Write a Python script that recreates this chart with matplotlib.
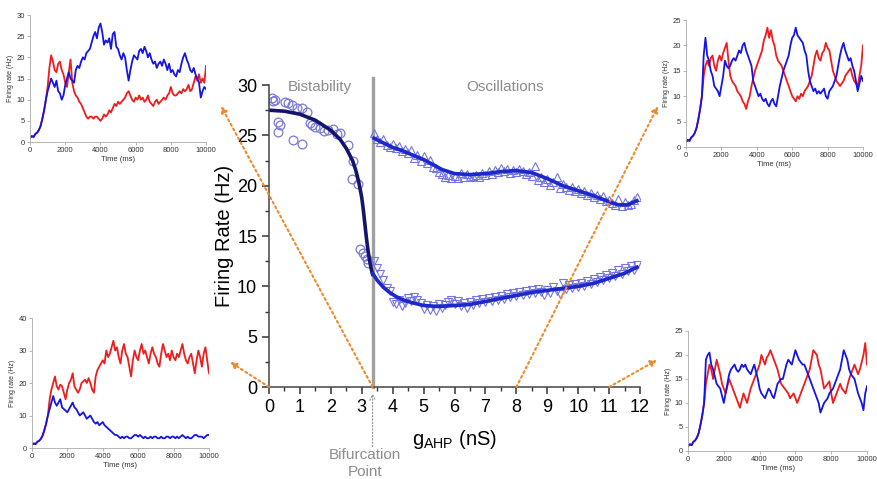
import matplotlib
matplotlib.use("Agg")
import matplotlib.pyplot as plt
import numpy as np
from matplotlib.patches import ConnectionPatch

plt.rcParams['font.family'] = ['Liberation Sans', 'DejaVu Sans']
plt.rcParams['mathtext.fontset'] = 'custom'
plt.rcParams['mathtext.rm'] = 'Liberation Sans'
plt.rcParams['mathtext.it'] = 'Liberation Sans:italic'

# ---- main panel data ----
bif_x = 3.35

circ_x = [0.09, 0.19, 0.52, 0.63, 0.73, 0.89, 1.06, 1.22, 0.30, 0.36, 0.30, 0.79, 1.06,
          1.33, 1.49, 1.65, 1.92, 2.08, 2.30, 2.57, 2.73, 2.67, 2.89, 2.94, 3.05, 3.11,
          3.16, 3.21, 0.14, 1.40, 1.78, 2.20]
circ_y = [28.7, 28.5, 28.3, 28.2, 28.0, 27.7, 27.7, 27.3, 26.3, 26.0, 25.3, 24.5, 24.1,
          26.2, 25.8, 25.7, 25.5, 25.6, 25.2, 24.0, 22.5, 20.7, 20.2, 13.7, 13.3, 13.0,
          12.7, 12.3, 28.4, 26.0, 25.4, 25.1]

left_fit_x = [0.0, 0.5, 1.0, 1.5, 2.0, 2.3, 2.5, 2.7, 2.8, 2.9, 3.0, 3.05, 3.1, 3.15, 3.2, 3.25, 3.3, 3.35]
left_fit_y = [27.5, 27.4, 27.1, 26.5, 25.5, 24.6, 23.7, 22.5, 21.6, 20.4, 18.8, 17.6, 16.2, 14.8, 13.6, 12.6, 11.8, 11.2]

tri_x = [3.4, 3.5, 3.6, 3.7, 3.8, 3.9, 4.0, 4.1, 4.2, 4.3, 4.4, 4.5, 4.6, 4.7, 4.8, 4.9,
         5.0, 5.1, 5.2, 5.3, 5.4, 5.5, 5.6, 5.7, 5.8, 5.9, 6.0, 6.1, 6.2, 6.3, 6.4, 6.5,
         6.6, 6.7, 6.8, 6.9, 7.0, 7.1, 7.2, 7.3, 7.4, 7.5, 7.6, 7.7, 7.8, 7.9, 8.0, 8.1,
         8.2, 8.3, 8.4, 8.5, 8.6, 8.7, 8.8, 8.9, 9.0, 9.1, 9.2, 9.3, 9.4, 9.5, 9.6, 9.7,
         9.8, 9.9, 10.0, 10.1, 10.2, 10.3, 10.4, 10.5, 10.6, 10.7, 10.8, 10.9, 11.0, 11.1,
         11.2, 11.3, 11.4, 11.5, 11.6, 11.7, 11.8, 11.9]
upper_y = [25.2, 24.6, 24.3, 24.6, 24.0, 23.8, 24.1, 23.7, 23.9, 23.4, 23.6, 23.2, 23.5, 22.8,
           23.0, 22.5, 22.9, 22.3, 22.6, 21.9, 21.8, 21.4, 21.2, 20.9, 21.1, 20.8, 21.0, 20.8,
           21.3, 20.9, 21.2, 20.9, 21.0, 21.1, 20.9, 21.3, 21.1, 21.5, 21.2, 21.6, 21.4, 21.8,
           21.5, 21.7, 21.3, 21.6, 21.4, 21.7, 21.5, 21.2, 21.4, 21.0, 22.0, 20.6, 20.9, 20.4,
           20.7, 20.1, 20.4, 20.9, 19.8, 20.2, 19.9, 19.6, 19.9, 19.5, 19.7, 19.3, 19.5, 19.1,
           19.3, 18.9, 19.1, 18.7, 19.0, 18.5, 18.6, 18.3, 18.1, 18.7, 18.0, 18.4, 18.1, 18.2,
           18.6, 18.9]
lower_y = [12.5, 11.8, 11.2, 10.6, 9.8, 9.5, 8.4, 8.2, 8.6, 8.0, 8.3, 8.8, 8.5, 8.9, 8.6, 8.3,
           7.8, 8.1, 7.7, 8.0, 7.6, 8.2, 7.9, 8.1, 8.4, 8.6, 8.2, 8.5, 8.0, 8.3, 7.9, 8.4,
           8.1, 8.6, 8.3, 8.7, 8.4, 8.8, 8.5, 8.9, 8.6, 9.0, 8.7, 9.2, 8.9, 9.3, 9.0, 9.4,
           9.1, 9.5, 9.2, 9.6, 9.3, 9.7, 9.4, 9.1, 9.6, 9.3, 9.9, 9.5, 9.2, 10.3, 9.7, 10.1,
           9.8, 10.2, 9.9, 10.3, 10.0, 10.5, 10.2, 10.7, 10.4, 10.9, 10.6, 11.1, 10.8, 11.3,
           11.0, 11.6, 11.2, 11.8, 11.5, 12.0, 11.6, 12.1]

upper_fit_x = [3.4, 3.6, 3.8, 4.0, 4.3, 4.6, 5.0, 5.3, 5.6, 6.0, 6.5, 7.0, 7.5, 8.0, 8.5,
               9.0, 9.5, 10.0, 10.5, 11.0, 11.3, 11.6, 11.9]
upper_fit_y = [24.7, 24.4, 24.1, 23.8, 23.5, 23.1, 22.6, 22.1, 21.6, 21.2, 21.1, 21.2, 21.4,
               21.5, 21.3, 20.7, 20.0, 19.5, 19.0, 18.4, 18.1, 18.1, 18.5]
lower_fit_x = [3.35, 3.5, 3.7, 3.9, 4.1, 4.3, 4.6, 5.0, 5.5, 6.0, 6.5, 7.0, 7.5, 8.0, 8.5,
               9.0, 9.5, 10.0, 10.5, 11.0, 11.5, 11.9]
lower_fit_y = [11.3, 10.6, 9.9, 9.4, 9.0, 8.7, 8.4, 8.1, 8.0, 8.1, 8.2, 8.5, 8.8, 9.1, 9.4,
               9.6, 9.8, 10.0, 10.3, 10.8, 11.3, 11.9]

# ---- inset traces (firing rate every 100 ms) ----
t_ms = list(range(0, 10001, 100))
rise = [1.0, 1.4, 1.2, 1.9, 2.2, 2.8, 3.8, 5.5, 7.5, 10.0]

tl_red = rise + [13.0, 17.5, 20.5, 19.0, 17.0, 16.5, 18.5, 19.0, 17.0, 16.0,
                 14.0, 13.0, 16.5, 19.5, 14.0, 12.0, 11.0, 10.5, 9.5, 9.0,
                 8.0, 7.0, 6.0, 5.5, 6.0, 6.0, 5.5, 6.0, 6.0, 5.5,
                 5.0, 5.5, 6.5, 6.0, 6.5, 7.5, 7.0, 8.0, 9.0, 8.5,
                 9.5, 9.0, 9.5, 10.0, 10.5, 11.5, 12.0, 11.0, 10.0, 9.5,
                 10.5, 10.0, 11.0, 10.0, 10.5, 9.5, 10.0, 11.0, 9.5, 9.0,
                 8.5, 9.5, 10.0, 9.0, 9.5, 10.0, 10.5, 10.0, 11.0, 11.5,
                 13.0, 11.5, 11.0, 11.0, 11.5, 12.0, 11.5, 12.5, 12.0, 12.5,
                 13.5, 12.0, 12.5, 14.0, 15.5, 14.5, 16.0, 14.0, 15.0, 14.0, 18.0]
tl_blue = rise + [12.0, 13.5, 15.0, 14.0, 13.0, 14.5, 12.0, 11.5, 10.0, 11.0,
                  13.5, 15.0, 16.5, 15.0, 14.5, 14.0, 17.0, 18.0, 17.5, 19.0,
                  20.0, 19.5, 21.0, 21.5, 22.0, 23.5, 25.0, 26.0, 24.5, 27.0,
                  28.0, 26.0, 23.0, 24.0, 23.5, 24.5, 22.0, 25.5, 26.0, 22.5,
                  22.0, 20.5, 19.5, 21.0, 20.0, 17.0, 14.5, 17.0, 19.0, 20.5,
                  20.0, 19.5, 21.5, 22.0, 21.0, 22.5, 21.5, 20.0, 21.0, 19.5,
                  18.5, 19.0, 17.5, 18.5, 19.0, 18.0, 19.5, 18.5, 17.0, 18.5,
                  16.5, 17.0, 16.0, 15.5, 17.0, 16.5, 18.5, 20.0, 21.0, 19.5,
                  18.5, 17.0, 16.5, 17.5, 16.0, 15.0, 14.0, 10.5, 12.0, 13.0, 12.5]
tr_red = rise + [14, 16, 17, 16, 17.5, 18, 16, 15, 17, 18,
                 17, 18.5, 19.5, 20.5, 17, 14, 13, 12.5, 12, 11,
                 10.5, 10, 9, 8.5, 7.5, 9, 10, 12, 13.5, 15,
                 16, 17, 18, 19, 21, 22, 23.5, 21.5, 23, 21,
                 20, 18, 17, 16.5, 16, 15, 14, 13, 12, 11,
                 10, 9.5, 9, 10, 9.5, 10.5, 10, 11, 11.5, 12,
                 13, 14, 16, 18, 19, 17.5, 17, 18.5, 19, 20.5,
                 19.5, 19, 17, 15, 14, 13, 12.5, 12, 12.5, 13,
                 14, 14.5, 15, 15.5, 14, 13, 12.5, 12, 14, 16, 20]
tr_blue = rise + [18, 21.5, 18, 17, 15, 14, 12, 11.5, 11, 10,
                  12, 14, 17, 16, 15.5, 16, 17, 17.5, 17, 18,
                  19, 18.5, 20, 20.5, 19, 18, 17, 16, 13, 12,
                  11, 10, 10.5, 9.5, 9, 9.5, 8.5, 8, 9, 9.5,
                  8.5, 8, 10, 12, 13.5, 15, 16, 17, 18, 20,
                  21.5, 22, 23.5, 22, 21.5, 21, 20.5, 19, 18, 15,
                  13, 12, 11, 11.5, 10.5, 11, 10.5, 11, 11.5, 10,
                  9.5, 11, 11.5, 12, 13, 14, 16, 18, 19.5, 20.5,
                  19, 18, 17, 17.5, 16, 15, 13, 11, 12.5, 14, 13]
bl_red = rise + [15, 18, 20, 22, 19, 18, 19.5, 19, 17, 15,
                 18, 20, 21, 23, 19, 18, 17, 18, 20, 20.5,
                 21, 20, 21.5, 20, 18, 17, 22, 24, 25, 26,
                 27, 26, 30, 28, 29, 31, 33, 30, 31, 28,
                 26, 30, 32, 29, 28, 25, 22, 27, 30, 28,
                 27, 30, 32, 29, 30, 28, 26, 29, 31, 29,
                 28, 26, 25, 29, 32, 30, 28, 29, 27, 30,
                 28, 27, 29, 28, 30, 32, 29, 27, 26, 28,
                 29, 26, 23, 27, 30, 28, 25, 29, 31, 27, 23]
bl_blue = rise + [12, 14, 16, 14, 13, 14, 15, 12.5, 12, 11.5,
                  11, 12, 13, 14, 12.5, 12, 11, 10, 10.5, 11,
                  10, 9, 9.5, 10, 9, 8, 7.5, 8, 7, 7.5,
                  8, 7, 6.5, 6, 5.5, 5, 4.5, 4, 4, 3.5,
                  3, 3.5, 3, 3.5, 3.5, 3, 3, 3.5, 4, 4,
                  3.5, 4, 3.5, 3, 3.5, 3, 3, 3.5, 3, 3.5,
                  3.5, 3, 3, 3.5, 3, 3, 3.5, 3.5, 3, 3.5,
                  3.5, 3, 3.5, 3, 3.5, 4, 3.5, 3, 3.5, 3,
                  3, 3.5, 4, 4, 3.5, 3.5, 3.5, 3, 3.5, 4, 4]
br_red = rise + [14, 16, 18, 17, 15, 17, 19, 17.5, 16, 14,
                 13, 12, 13.5, 15, 14, 13, 12, 11, 10, 9,
                 10.5, 12, 11, 10, 11.5, 13, 14, 15, 16, 17,
                 18, 20, 19, 18, 19.5, 20, 21, 20, 19, 18,
                 17, 15.5, 14, 13.5, 13, 12.5, 12, 11, 11.5, 12,
                 11, 10, 11, 12, 13, 14, 15, 16, 17, 19,
                 21, 20.5, 20, 18, 17, 15, 13, 13.5, 14, 14.5,
                 12, 10, 11, 12, 13, 14, 13, 12.5, 12, 13.5,
                 15, 16, 17, 18, 17, 16, 17, 18.5, 20, 22.5, 18]
br_blue = rise + [19, 20, 20.5, 18, 17, 15.5, 14, 13.5, 13, 11.5,
                  10, 12, 14, 16, 17, 17.5, 18, 17, 16.5, 17,
                  18, 17.5, 18, 17, 16.5, 16, 17, 18, 16.5, 15,
                  13, 12, 11.5, 11, 12, 13, 12.5, 11.5, 11, 12.5,
                  14, 14.5, 15, 15, 16.5, 18, 19, 18.5, 18, 19.5,
                  21, 20, 19, 18.5, 18, 18, 17, 16, 15, 14,
                  13, 12, 11, 10, 8, 9, 10, 10.5, 11, 12,
                  12.5, 13, 14, 15, 16, 17, 19, 21, 20, 19,
                  17, 16, 15.5, 15, 13.5, 12, 11, 10, 8.5, 12, 13.5]

fig = plt.figure(figsize=(8.78, 4.79), dpi=100)

# main axes
ax = fig.add_axes([0.3064, 0.192, 0.4226, 0.6305])
ax.plot(circ_x, circ_y, 'o', ms=6.3, mfc='none', mec='#7a7ad4', mew=0.9)
ax.plot(tri_x, upper_y, '^', ms=6.3, mfc='none', mec='#7474e2', mew=0.8)
ax.plot(tri_x, lower_y, 'v', ms=6.3, mfc='none', mec='#7474e2', mew=0.8)
ax.plot(left_fit_x, left_fit_y, color='#14146a', lw=2.6)
ax.plot(upper_fit_x, upper_fit_y, color='#1c28c8', lw=2.6)
ax.plot(lower_fit_x, lower_fit_y, color='#1c28c8', lw=2.6)
ax.plot([bif_x, bif_x], [0, 30.7], color='#a0a0a0', lw=2.4, clip_on=False, zorder=1)

ax.set_xlim(0, 12)
ax.set_ylim(0, 30)
ax.set_xticks(range(0, 13))
ax.set_yticks([0, 5, 10, 15, 20, 25, 30])
ax.set_xticks(np.arange(0.5, 12, 1.0), minor=True)
ax.set_yticks(np.arange(2.5, 30, 5.0), minor=True)
ax.tick_params(which='major', direction='out', length=5, width=1.1, labelsize=13, color='#333333')
ax.tick_params(which='minor', direction='out', length=3, width=1.0, color='#333333')
for s in ['top', 'right']:
    ax.spines[s].set_visible(False)
for s in ['left', 'bottom']:
    ax.spines[s].set_color('#444444')
    ax.spines[s].set_linewidth(1.1)
ax.patch.set_alpha(0)
ax.set_ylabel('Firing Rate (Hz)', fontsize=14.5, labelpad=2)
ax.set_xlabel(r'g$_{\mathrm{AHP}}$ (nS)', fontsize=14.5, labelpad=9)

ax.text(1.65, 29.8, 'Bistability', color='#8c8c8c', fontsize=11, ha='center', va='center')
ax.text(7.65, 29.8, 'Oscillations', color='#8c8c8c', fontsize=11, ha='center', va='center')

ax.annotate('', xy=(bif_x, -0.35), xytext=(bif_x, -6.2), annotation_clip=False,
            arrowprops=dict(arrowstyle='->', color='#999999', lw=0.9, linestyle=':'))
ax.text(3.1, -7.6, 'Bifurcation\nPoint', color='#8c8c8c', fontsize=11, ha='center',
        va='center', linespacing=1.2, clip_on=False)

# insets
def inset(rect, red, blue, ymax, yticks):
    a = fig.add_axes(rect)
    a.plot(t_ms, red, color='#ee1c1c', lw=1.3)
    a.plot(t_ms, blue, color='#1414e6', lw=1.3)
    a.set_xlim(0, 10000)
    a.set_ylim(0, ymax)
    a.set_xticks([0, 2000, 4000, 6000, 8000, 10000])
    a.set_yticks(yticks)
    a.tick_params(labelsize=5.5, length=2, width=0.5, color='#999999', labelcolor='#333333', pad=1.5)
    for s in ['top', 'right']:
        a.spines[s].set_visible(False)
    for s in ['left', 'bottom']:
        a.spines[s].set_color('#aaaaaa')
        a.spines[s].set_linewidth(0.6)
    a.set_xlabel('Time (ms)', fontsize=5.5, labelpad=1.5, color='#333333')
    a.set_ylabel('Firing rate (Hz)', fontsize=5, labelpad=2, color='#333333')
    return a

inset([0.0342, 0.7035, 0.2005, 0.2651], tl_red, tl_blue, 30, [0, 5, 10, 15, 20, 25, 30])
inset([0.7813, 0.6931, 0.2016, 0.2651], tr_red, tr_blue, 25, [0, 5, 10, 15, 20, 25])
inset([0.0364, 0.0647, 0.2016, 0.2714], bl_red, bl_blue, 40, [0, 10, 20, 30, 40])
inset([0.7836, 0.0585, 0.2039, 0.2505], br_red, br_blue, 25, [0, 5, 10, 15, 20, 25])

# orange dotted arrows from the main panel to the insets
arrow_from = [(bif_x, 0), (0, 0), (8, 0), (11, 0)]
arrow_to = [(0.2517, 0.7787), (0.262, 0.2443), (0.7494, 0.7787), (0.7483, 0.2484)]
for a_from, a_to in zip(arrow_from, arrow_to):
    cp = ConnectionPatch(xyA=a_from, coordsA='data', axesA=ax, xyB=a_to, coordsB='figure fraction',
                         arrowstyle='-|>', color='#f0892a', lw=1.5, linestyle=(0, (1, 1.5)),
                         mutation_scale=9, zorder=5)
    fig.add_artist(cp)

fig.savefig('out.png', dpi=100)
